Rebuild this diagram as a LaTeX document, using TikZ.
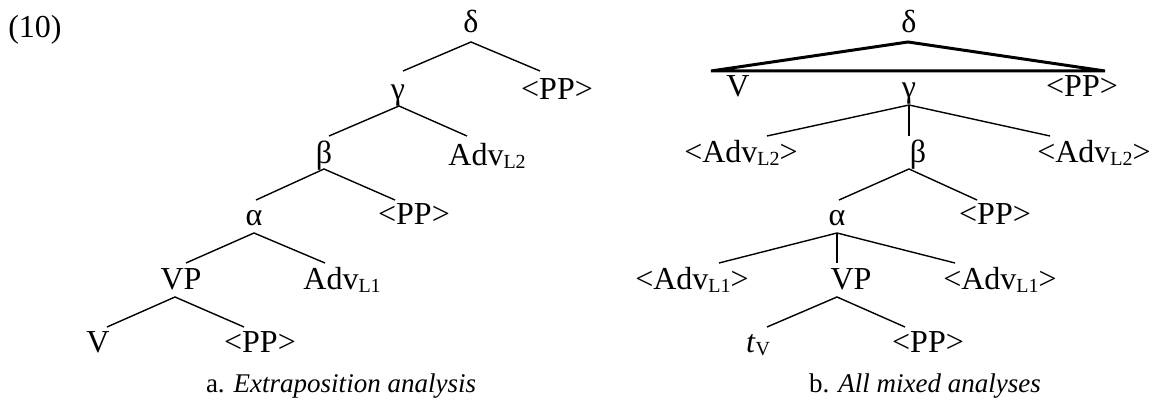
\documentclass[tikz,border=0pt]{standalone}
\usepackage{fontspec}
\setmainfont{Liberation Serif}
\newcommand\sbx[1]{\raisebox{-0.08em}{\fontsize{10}{10}\selectfont #1}}
\begin{document}
\begin{tikzpicture}[x=0.5pt,y=-0.5pt,
  lbl/.style={anchor=base,inner sep=0pt,font=\fontsize{16}{16}\selectfont},
  captxt/.style={anchor=base,inner sep=0pt,font=\fontsize{13.5}{13.5}\selectfont},
  edge/.style={line width=0.7pt},
  roof/.style={line width=1.5pt,line join=miter}]
\useasboundingbox (0,0) rectangle (1152,406);

% ---------- example number
\node[lbl] (ex) at (35,38) {(10)};

% ---------- left tree
\node[lbl] (L-delta) at (471,33) {δ};
\node[lbl] (L-gamma) at (398,100) {γ};
\node[lbl] (L-pp1) at (557,100) {<PP>};
\node[lbl] (L-beta) at (324,164) {β};
\node[lbl,anchor=base west] (L-adv2) at (448,166) {Adv\sbx{L2}};
\node[lbl] (L-alpha) at (254,226) {α};
\node[lbl] (L-pp2) at (414,225) {<PP>};
\node[lbl] (L-vp) at (181,290) {VP};
\node[lbl,anchor=base west] (L-adv1) at (303,290) {Adv\sbx{L1}};
\node[lbl] (L-v) at (98,353) {V};
\node[lbl] (L-pp3) at (260,353) {<PP>};
\node[captxt] (L-cap) at (341,393) {a. \textit{Extraposition analysis}};

\coordinate (Ld) at (471,42);  \coordinate (Ld1) at (403,71);  \coordinate (Ld2) at (540,71);
\coordinate (Lg) at (399,106); \coordinate (Lg1) at (329,136); \coordinate (Lg2) at (467,136);
\coordinate (Lb) at (324,169); \coordinate (Lb1) at (256,200); \coordinate (Lb2) at (395,200);
\coordinate (La) at (254,233); \coordinate (La1) at (186,263); \coordinate (La2) at (325,263);
\coordinate (Lv) at (175,297); \coordinate (Lv1) at (107,327); \coordinate (Lv2) at (244,327);
\draw[edge] (Ld1) -- (Ld) -- (Ld2);
\draw[edge] (Lg1) -- (Lg) -- (Lg2);
\draw[edge] (Lb1) -- (Lb) -- (Lb2);
\draw[edge] (La1) -- (La) -- (La2);
\draw[edge] (Lv1) -- (Lv) -- (Lv2);

% ---------- right tree
\node[lbl] (R-delta) at (909,33) {δ};
\node[lbl] (R-v) at (738,97) {V};
\node[lbl] (R-gamma) at (909,98) {γ};
\node[lbl] (R-pp1) at (1082,97) {<PP>};
\node[lbl] (R-adv2l) at (741,163) {<Adv\sbx{L2}>};
\node[lbl] (R-beta) at (918,163) {β};
\node[lbl] (R-adv2r) at (1094,163) {<Adv\sbx{L2}>};
\node[lbl] (R-alpha) at (837,226) {α};
\node[lbl] (R-pp2) at (995,225) {<PP>};
\node[lbl] (R-adv1l) at (692,290) {<Adv\sbx{L1}>};
\node[lbl] (R-vp) at (851,290) {VP};
\node[lbl] (R-adv1r) at (1000,290) {<Adv\sbx{L1}>};
\node[lbl] (R-t) at (758,353) {\textit{t}\sbx{V}};
\node[lbl] (R-pp3) at (928,353) {<PP>};
\node[captxt] (R-cap) at (925,393) {b. \textit{All mixed analyses}};

\coordinate (Rd) at (908,42); \coordinate (Rd1) at (711,71); \coordinate (Rd2) at (1105,71);
\draw[roof] (Rd1) -- (Rd) -- (Rd2) -- cycle;
\coordinate (Rg) at (909,105); \coordinate (Rg1) at (767,136); \coordinate (Rg2) at (909,136); \coordinate (Rg3) at (1050,136);
\draw[edge] (Rg1) -- (Rg) -- (Rg3);
\draw[edge] (Rg) -- (Rg2);
\coordinate (Rb) at (909,169); \coordinate (Rb1) at (839,200); \coordinate (Rb2) at (977,200);
\draw[edge] (Rb1) -- (Rb) -- (Rb2);
\coordinate (Ra) at (837,233); \coordinate (Ra1) at (719,263); \coordinate (Ra2) at (837,263); \coordinate (Ra3) at (955,263);
\draw[edge] (Ra1) -- (Ra) -- (Ra3);
\draw[edge] (Ra) -- (Ra2);
\coordinate (Rv) at (837,297); \coordinate (Rv1) at (767,327); \coordinate (Rv2) at (905,327);
\draw[edge] (Rv1) -- (Rv) -- (Rv2);
\end{tikzpicture}
\end{document}
